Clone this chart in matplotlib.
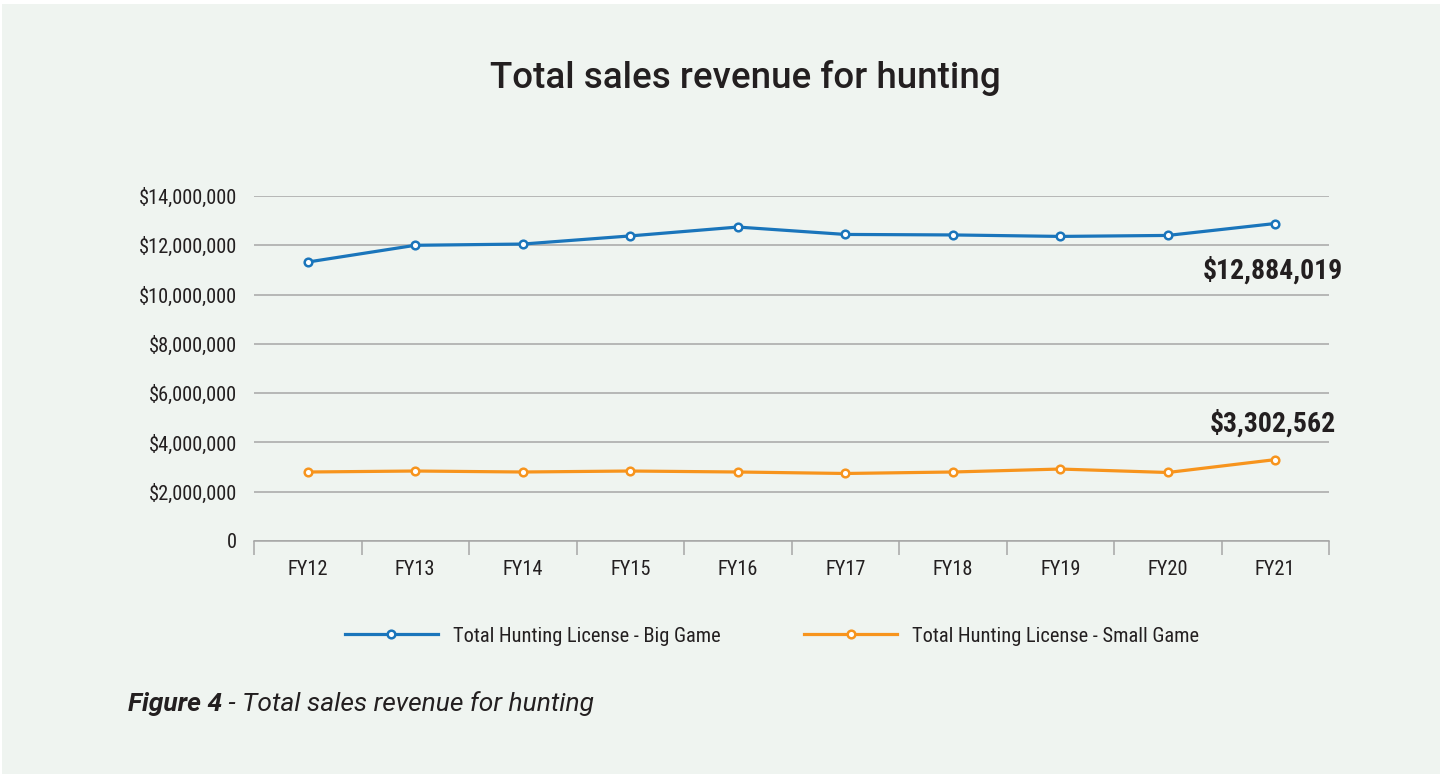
import matplotlib
matplotlib.use("Agg")
import matplotlib.pyplot as plt
from matplotlib import font_manager as fm
from matplotlib.patches import Rectangle
from matplotlib.ticker import FuncFormatter

years = ["FY12", "FY13", "FY14", "FY15", "FY16", "FY17", "FY18", "FY19", "FY20", "FY21"]
big_game = [11320000, 12000000, 12050000, 12380000, 12740000, 12440000, 12420000, 12360000, 12400000, 12884019]
small_game = [2800000, 2840000, 2800000, 2840000, 2800000, 2740000, 2800000, 2920000, 2780000, 3302562]
y_ticks = [0, 2000000, 4000000, 6000000, 8000000, 10000000, 12000000, 14000000]

blue = "#1a75bb"
orange = "#f7941d"
bg = "#eff4f0"
ink = "#231f20"


def font(basename, size, fallback_family="DejaVu Sans", **kw):
    for f in fm.fontManager.ttflist:
        if f.fname.endswith("/" + basename):
            return fm.FontProperties(fname=f.fname, size=size)
    return fm.FontProperties(family=fallback_family, size=size, **kw)


cond = font("RobotoCondensed-Regular.ttf", 14.7)
cond_bold = font("RobotoCondensed-Bold.ttf", 20, weight="bold")
title_fp = font("Roboto-Medium.ttf", 26.5, weight="medium")
cap_bold = font("Roboto-BoldItalic.ttf", 19, weight="bold", style="italic")
cap_it = font("Roboto-Italic.ttf", 19, style="italic")

fig = plt.figure(figsize=(14.42, 7.76), dpi=100)
fig.patch.set_facecolor("white")
fig.patches.append(Rectangle((2 / 1442, 2 / 776), 1 - 4 / 1442, 1 - 6 / 776,
                             transform=fig.transFigure, facecolor=bg, edgecolor="none", zorder=-10))

ax = fig.add_axes([254 / 1442, 235 / 776, 1075 / 1442, 345 / 776])
ax.set_facecolor("none")

x = list(range(len(years)))
ax.plot(x, big_game, color=blue, lw=2.3, marker="o", ms=5.5, mfc="white", mec=blue, mew=1.8,
        label="Total Hunting License - Big Game", zorder=3)
ax.plot(x, small_game, color=orange, lw=2.3, marker="o", ms=5.5, mfc="white", mec=orange, mew=1.8,
        label="Total Hunting License - Small Game", zorder=3)

ax.set_xlim(-0.5, len(years) - 0.5)
ax.set_ylim(0, 14000000)
ax.set_yticks(y_ticks)
ax.yaxis.set_major_formatter(FuncFormatter(lambda v, p: "0" if v == 0 else "${:,.0f}".format(v)))
ax.grid(axis="y", color="#a6a6a6", lw=1.1)
ax.set_axisbelow(True)

ax.set_xticks(x)
ax.set_xticklabels(years)
ax.set_xticks([i - 0.5 for i in range(len(years) + 1)], minor=True)
ax.tick_params(axis="x", which="major", length=0, pad=14, labelcolor=ink)
ax.tick_params(axis="x", which="minor", length=10, width=1.1, color="#a6a6a6", direction="out")
ax.tick_params(axis="y", length=0, pad=12, labelcolor=ink)
for lab in ax.get_xticklabels() + ax.get_yticklabels():
    lab.set_fontproperties(cond)

for s in ["top", "right", "left"]:
    ax.spines[s].set_visible(False)
ax.spines["bottom"].set_color("#a6a6a6")
ax.spines["bottom"].set_linewidth(1.1)

# end-of-series value labels
ax.text(len(years) - 1 + 0.63, big_game[-1] - 1900000, "${:,}".format(big_game[-1]), ha="right", va="center",
        fontproperties=cond_bold, color=ink)
ax.text(len(years) - 1 + 0.565, small_game[-1] + 1480000, "${:,}".format(small_game[-1]), ha="right", va="center",
        fontproperties=cond_bold, color=ink)

fig.text(745 / 1442, 1 - 78 / 776, "Total sales revenue for hunting", ha="center", va="center",
         fontproperties=title_fp, color=ink)

leg = fig.legend(loc="center", bbox_to_anchor=(772 / 1442, 1 - 636 / 776), ncol=2, frameon=False,
                 handlelength=4.55, handletextpad=0.73, columnspacing=4.1, prop=cond)
for t in leg.get_texts():
    t.set_color(ink)

t1 = fig.text(128 / 1442, 1 - 704 / 776, "Figure 4", ha="left", va="center", fontproperties=cap_bold, color=ink)
fig.canvas.draw()
bb = t1.get_window_extent()
fig.text(bb.x1 / 1442, 1 - 704 / 776, " - Total sales revenue for hunting", ha="left", va="center",
         fontproperties=cap_it, color=ink)

fig.savefig("out.png", dpi=100, facecolor=fig.get_facecolor())
